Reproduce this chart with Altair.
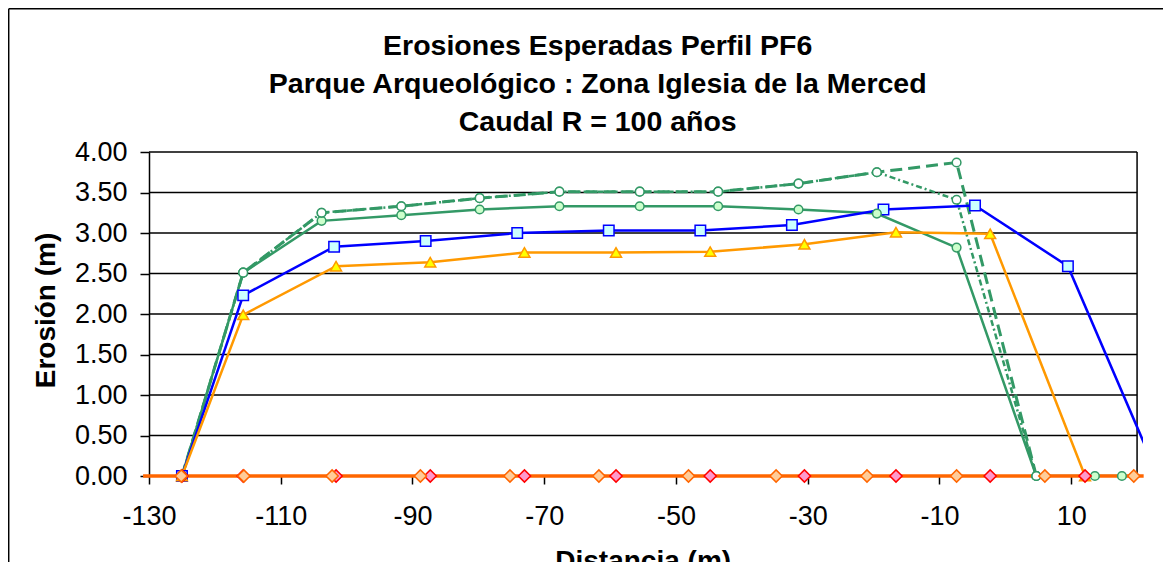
import altair as alt
import pandas as pd

# ---------------- data ----------------
x_ticks = [-130, -110, -90, -70, -50, -30, -10, 10]
y_ticks = [0.0, 0.5, 1.0, 1.5, 2.0, 2.5, 3.0, 3.5, 4.0]
x_bounds = [-130, 20]          # plot-area frame (axis min / max)
x_view_max = 20.9              # Excel lets lines run a few pixels past the frame

blue_x = [-125.0, -115.7, -101.9, -88.0, -74.1, -60.2, -46.3, -32.4, -18.5, -4.6, 9.5, 23.2]
blue_y = [0.0, 2.23, 2.83, 2.90, 3.00, 3.03, 3.03, 3.10, 3.29, 3.34, 2.59, 0.0]

tri_x = [-125.0, -115.7, -101.6, -87.3, -73.0, -59.1, -44.8, -30.5, -16.6, -2.3, 12.1]
tri_y = [0.0, 1.99, 2.59, 2.64, 2.76, 2.76, 2.77, 2.86, 3.01, 2.99, 0.0]

gs_x = [-125.0, -115.7, -103.8, -91.7, -79.8, -67.7, -55.5, -43.6, -31.4, -19.5, -7.4, 4.7, 13.6, 17.7]
gs_y = [0.0, 2.51, 3.15, 3.22, 3.29, 3.33, 3.33, 3.33, 3.29, 3.24, 2.82, 0.0, 0.0, 0.0]

gd_x = [-125.0, -115.7, -103.8, -91.7, -79.8, -67.7, -55.5, -43.6, -31.4, -19.5, -7.4, 4.7]
gd_y = [0.0, 2.51, 3.25, 3.33, 3.43, 3.51, 3.51, 3.51, 3.61, 3.75, 3.87, 0.0]

gt_x = [-125.0, -115.7, -103.8, -91.7, -79.8, -67.7, -55.5, -43.6, -31.4, -19.5, -7.4, 4.7]
gt_y = [0.0, 2.51, 3.25, 3.33, 3.43, 3.51, 3.51, 3.51, 3.61, 3.75, 3.41, 0.0]

lo_x = [-125.1, -115.6, -102.2, -88.8, -75.2, -61.7, -48.1, -34.8, -21.0, -7.4, 6.0, 19.5]
lo_y = [0.0] * len(lo_x)

pk_x = [-125.0, -115.7, -101.6, -87.3, -73.0, -59.1, -44.8, -30.5, -16.6, -2.3, 12.1]
pk_y = [0.0] * len(pk_x)

base_x = [-130.9, 21.0]
base_y = [0.0, 0.0]

title_lines = ["Erosiones Esperadas Perfil PF6",
               "Parque Arqueológico : Zona Iglesia de la Merced",
               "Caudal R = 100 años"]

FONT = "Liberation Sans"
MINUS_FIX = "replace(datum.label, '\u2212', '-')"


def df(xs, ys):
    return pd.DataFrame({"x": xs, "y": ys})


X = alt.X(
    "x:Q",
    scale=alt.Scale(domain=[x_bounds[0], x_view_max], nice=False, zero=False),
    axis=alt.Axis(
        values=x_ticks, title="Distancia (m)", grid=False, domain=False,
        labelExpr=MINUS_FIX,
        tickSize=8, tickWidth=1.5, tickColor="black",
        labelFont=FONT, labelFontSize=27, labelColor="black", labelPadding=19,
        labelFlush=False, labelOverlap=False,
        titleFont=FONT, titleFontSize=28, titleFontWeight="bold", titleColor="black",
        titleBaseline="alphabetic", titleX=493.7, titleY=93.7, titleAnchor="start",
        titleAlign="center",
    ),
)
Y = alt.Y(
    "y:Q",
    scale=alt.Scale(domain=[0, 4], nice=False),
    axis=alt.Axis(
        values=y_ticks, format=".2f", title="Erosión (m)", grid=False,
        domainColor="black", domainWidth=1.5,
        tickSize=9, tickWidth=1.5, tickColor="black",
        labelFont=FONT, labelFontSize=27, labelColor="black", labelPadding=13,
        labelFlush=False, labelOverlap=False,
        titleFont=FONT, titleFontSize=28, titleFontWeight="bold", titleColor="black",
        titleBaseline="middle", titleX=-103, titleY=158, titleAngle=270,
        titleAlign="center",
    ),
)

# grid lines / frame
grid_df = pd.DataFrame({"x": [x_bounds[0]] * len(y_ticks),
                        "x2": [x_bounds[1]] * len(y_ticks),
                        "y": y_ticks})
grid = alt.Chart(grid_df).mark_rule(color="black", strokeWidth=1.5).encode(x=X, x2="x2:Q", y=Y)

right_df = pd.DataFrame({"x": [x_bounds[1]], "y": [y_ticks[0]], "y2": [y_ticks[-1]]})
right_border = alt.Chart(right_df).mark_rule(color="black", strokeWidth=1.5).encode(x=X, y=Y, y2="y2:Q")

one = pd.DataFrame({"k": [0]})
outer_left = alt.Chart(one).mark_rule(color="black", strokeWidth=1.5).encode(
    x=alt.value(-140.3), y=alt.value(-143.3), y2=alt.value(420))
outer_top = alt.Chart(one).mark_rule(color="black", strokeWidth=1.5).encode(
    x=alt.value(-140.3), x2=alt.value(1020), y=alt.value(-143.3))

# chart title as three centred text lines
title_marks = []
for i, t in enumerate(title_lines):
    title_marks.append(
        alt.Chart(one).mark_text(
            text=t, font=FONT, fontSize=28.5, fontWeight="bold", color="black",
            align="center", baseline="alphabetic",
        ).encode(x=alt.value(448.7), y=alt.value(-96.8 + 38 * i))
    )

GREEN = "#339966"


def line(xs, ys, color, width=2.5, dash=None, clip=True):
    kw = dict(color=color, strokeWidth=width, clip=clip)
    if dash:
        kw["strokeDash"] = dash
    return alt.Chart(df(xs, ys)).mark_line(**kw).encode(x=X, y=Y, order="x:Q")


def pts(xs, ys, shape, size, fill, stroke, sw=1.5):
    # markers are not clipped (so those on the 0 line show whole) but only
    # the points inside the visible x range are drawn
    return alt.Chart(df(xs, ys)).mark_point(
        shape=shape, size=size, filled=True, fill=fill, stroke=stroke,
        strokeWidth=sw, opacity=1, fillOpacity=1,
    ).encode(x=X, y=Y).transform_filter(f"datum.x <= {x_view_max}")


layers = [
    grid,
    right_border,
    line(gs_x, gs_y, GREEN, 2.5),
    line(gd_x, gd_y, GREEN, 3, dash=[12, 6]),
    line(gt_x, gt_y, GREEN, 2.5, dash=[6, 3, 2, 3]),
    line(blue_x, blue_y, "#0000FF", 2.5),
    line(tri_x, tri_y, "#FF9900", 2.5),
    line(base_x, base_y, "#FF6600", 3.5, clip=False),
    pts(blue_x, blue_y, "square", 110, "#CCFFFF", "#0000FF"),
    pts(tri_x, tri_y, "triangle-up", 120, "#FFFF00", "#FF9900"),
    pts(gs_x, gs_y, "circle", 75, "#CCFFCC", GREEN),
    pts(gd_x, gd_y, "circle", 75, "#FFFFFF", GREEN),
    pts(gt_x, gt_y, "circle", 75, "#FFFFFF", GREEN),
    pts(pk_x, pk_y, "diamond", 150, "#FF99CC", "#FF0000"),
    pts(lo_x, lo_y, "diamond", 150, "#FFCC99", "#FF6600"),
    outer_left,
    outer_top,
] + title_marks

chart = alt.layer(*layers).properties(
    width=994,
    height=324,
    padding={"left": 141, "top": 144, "right": 20, "bottom": 92},
    autosize=alt.AutoSizeParams(type="none"),
    background="white",
).configure_view(stroke=None)

chart.save("out.html", embed_options={"renderer": "svg", "actions": False})
